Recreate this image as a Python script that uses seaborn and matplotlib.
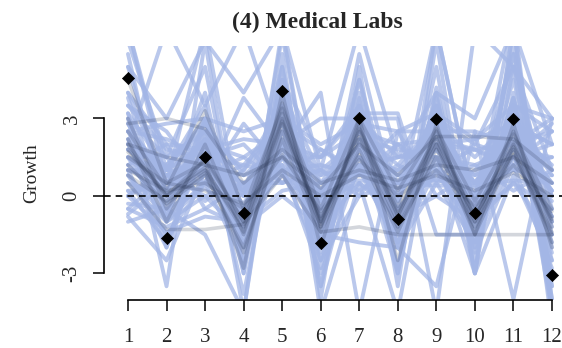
import numpy as np
import pandas as pd
import seaborn as sns
import matplotlib.pyplot as plt

months = list(range(1, 12 + 1))

# observed growth (black diamonds)
observed = [4.57, -1.63, 1.51, -0.66, 4.07, -1.82, 3.02, -0.89, 2.98, -0.66, 2.98, -3.06]

# light blue trajectories
light_lines = [
    [6.5, 0.5, 6.5, -1.5, 3.0, -2.5, 2.0, -3.0, 6.5, -0.5, 7.0, -4.5],
    [5.0, 3.0, 6.0, 4.0, 6.5, 1.0, 6.5, 1.5, 4.0, 3.0, 6.5, -3.5],
    [-1.0, -0.5, -1.5, -4.5, 5.0, -4.5, 0.5, -4.5, 3.5, -2.0, 6.0, -5.0],
    [3.0, -3.5, 6.0, -3.0, 6.5, -2.0, 4.5, -2.0, 5.0, -3.0, 6.5, 2.0],
    [0.0, -1.4, -0.8, -1.0, 0.2, 0.5, 0.6, 0.5, 0.4, 0.4, 0.6, 0.5],
    [2.0, 6.5, 3.5, 6.5, 2.0, 3.0, 3.0, 3.0, -4.5, 6.5, 5.0, -0.5],
    [-0.7, 0.5, 0.5, 3.8, 1.8, 4.0, -4.5, 2.5, 2.5, 2.5, -4.0, 3.0],
    [1.5, 1.0, 3.5, -4.5, 5.5, -4.0, 5.0, -3.5, 6.0, -3.0, 6.5, -4.0],
    [4.0, 2.0, -0.5, 0.5, 1.0, -2.5, 0.0, 2.0, 1.0, 0.0, 5.0, 3.0],
    [5.5, -1.0, 0.5, -0.5, 1.0, -1.5, -1.8, -2.0, -3.5, 2.5, 2.0, 3.0],
    [2.5, 1.0, 2.0, 1.5, 2.5, 0.0, 3.0, 1.5, 2.0, -1.0, 3.5, 2.5],
    [0.5, -1.0, 0.0, -1.5, 1.5, 1.5, 3.2, 3.2, -1.5, -1.5, 2.0, 1.0],
    [-0.8, -2.5, 1.0, -1.8, 2.0, -0.5, 1.0, -1.0, 1.5, -3.0, 0.8, -2.5],
    [1.0, 0.8, 1.5, 2.0, 0.5, 1.0, 0.0, 0.5, 1.2, 1.8, 1.0, 1.5],
    [2.2, -0.5, 2.5, -3.8, 3.5, -3.5, 2.0, -1.5, 3.8, -2.0, 2.8, -3.0],
    [3.5, 2.5, 0.5, 2.8, 1.0, 1.2, 0.8, 1.0, 2.8, 0.5, 2.5, 0.5],
    [1.2, -0.3, 2.8, 0.0, 3.0, -0.8, 4.5, -0.8, 1.0, -1.2, 3.8, -4.2],
    [0.2, -1.8, 1.8, -0.8, 1.2, -3.0, 1.2, -2.0, 0.5, -1.8, 1.5, -1.0],
    [6.0, 1.5, 5.0, -2.5, 6.2, -1.8, 5.5, -0.5, 6.5, -0.5, 5.5, -2.0],
    [-0.5, 0.8, 1.2, 0.2, 4.0, 0.8, 2.2, 0.8, 2.0, 0.8, 1.5, 2.0],
    [2.8, 0.5, 1.0, -0.3, 2.2, -0.2, 1.5, 1.0, 1.8, -0.2, 2.3, -0.8],
    [3.8, -0.8, 3.0, -2.0, 4.5, -2.8, 3.8, -2.8, 4.2, -2.5, 4.0, -4.5],
    [1.8, 1.5, -0.2, 1.0, 2.8, -1.0, 1.8, 0.2, 2.5, 0.5, 3.0, 0.8],
    [0.8, -0.8, 0.5, 1.2, 0.8, -0.5, 3.0, -1.2, 2.0, 1.8, 1.2, 2.5],
    [2.5, 2.2, 1.5, -1.0, 5.0, -2.0, 2.8, -0.2, 3.5, -0.6, 4.5, -1.5],
    [3.2, -2.0, 2.2, -1.2, 3.0, 0.2, 2.5, -2.8, 3.0, -1.8, 3.5, 0.0],
    [1.5, 0.0, 4.0, -2.8, 4.5, 1.5, 3.5, 0.5, 3.0, 2.0, 5.0, 1.0],
    [0.0, 1.2, 2.5, 0.3, 1.5, -0.2, 1.0, 2.5, 0.0, 1.0, 2.8, 2.0],
    [1.0, 0.5, 2.0, -0.5, 2.5, 0.0, 2.0, 0.3, 1.8, 0.0, 2.2, 0.5],
    [2.0, 1.0, 1.0, 0.2, 1.8, 0.8, 1.2, 1.5, 1.5, 1.2, 1.8, 1.5],
    [0.5, 0.0, 0.8, -0.8, 1.5, -1.0, 2.0, -0.5, 1.2, -0.5, 1.5, -0.8],
    [3.0, 1.5, 2.5, 1.0, 3.5, 0.5, 2.5, 1.2, 2.8, 1.5, 3.0, 1.0],
    [1.5, -1.0, 1.5, -2.0, 2.0, -1.5, 1.5, -1.8, 1.0, -1.5, 2.0, -2.2],
    [2.2, 0.8, 0.5, 0.0, 2.5, 0.5, 1.5, 0.0, 2.0, 0.3, 1.8, 0.2],
    [0.2, 0.3, 1.2, 0.5, 1.0, 0.2, 1.8, 0.8, 0.6, 0.5, 1.0, 0.8],
    [4.0, 0.5, 2.2, -1.0, 3.8, -1.5, 3.5, -1.0, 3.2, -1.0, 3.5, -2.5],
    [1.2, 2.0, 1.8, 2.2, 2.0, 1.5, 2.5, 2.0, 2.2, 1.8, 2.0, 2.5],
    [-0.3, -0.5, 0.3, -0.8, 0.8, -0.2, 0.5, -0.5, 0.8, -0.8, 0.5, -0.5],
    [2.8, 0.2, 1.8, -1.5, 3.2, -0.8, 2.8, -1.5, 2.5, -1.2, 2.8, -1.8],
    [1.8, 1.2, 2.8, 0.8, 2.0, 1.0, 2.2, 1.8, 1.5, 0.8, 2.5, 1.2],
    [0.8, -1.5, 0.5, -2.5, 1.8, -2.0, 1.0, -1.8, 1.5, -2.2, 1.2, -2.8],
    [3.5, 1.8, 1.5, 1.2, 2.8, 1.8, 1.0, 1.5, 2.0, 2.2, 2.8, 2.0],
    [1.5, 0.2, 2.2, 0.3, 2.8, -0.3, 2.8, 0.0, 2.2, 0.0, 2.5, 0.2],
    [2.5, -0.2, 1.2, 0.8, 1.2, -0.2, 1.2, 0.5, 1.5, -0.2, 1.2, -0.2],
    [0.0, 0.8, 0.0, 0.5, 0.5, 1.0, 0.2, 1.2, 0.5, 1.2, 0.2, 1.0],
    [3.2, 1.0, 3.0, -0.5, 2.0, 0.0, 3.5, -0.2, 3.5, -0.3, 3.2, 0.0],
    [2.0, -0.8, 2.5, -1.2, 4.2, -1.0, 2.0, -1.2, 2.8, -1.0, 3.8, -1.2],
    [1.0, 1.0, 0.8, 1.5, 0.5, 1.8, 0.8, 2.0, 0.6, 2.0, 1.5, 2.8],
    [5.0, 0.0, 1.0, -1.8, 3.5, -2.2, 3.0, -1.0, 3.0, -1.5, 3.0, -3.5],
    [2.5, 2.8, 3.0, 2.5, 3.0, 2.0, 2.8, 2.5, 3.2, 2.2, 3.5, 3.0],
    [-0.5, -1.2, -0.5, -1.2, 0.0, -1.2, 0.5, -0.8, 0.0, -1.0, 0.5, -1.5],
    [1.8, 0.5, 1.5, 0.0, 2.2, 0.2, 2.0, 0.5, 2.0, 0.5, 2.2, 0.2],
    [6.5, 1.0, 2.0, -1.0, 2.5, -0.5, 2.0, -0.8, 2.5, 0.0, 5.5, -1.0],
    [1.0, -2.0, 3.0, -3.0, 4.0, -3.5, 4.0, -3.0, 4.0, -3.0, 5.0, -4.0],
]

# darker, translucent trajectories (overlap makes the dark band)
dark_lines = [
    [1.8, 0.0, 1.0, -1.2, 3.0, -1.0, 2.5, -0.6, 2.2, -0.8, 2.0, -1.0],
    [2.5, 0.3, 3.3, -0.5, 3.4, -0.5, 3.0, 0.2, 2.6, -0.2, 2.4, -0.5],
    [1.2, -0.3, 0.8, -2.0, 2.2, -1.4, 1.8, -1.2, 1.5, -1.2, 1.6, -1.5],
    [2.8, 3.0, 2.6, 0.5, 1.8, 0.5, 1.0, 0.6, 1.2, 1.0, 1.5, 0.5],
    [2.0, 1.5, 1.2, 0.8, 1.5, 0.3, 2.0, 0.8, 2.3, 2.3, 2.2, 1.0],
    [0.5, -1.3, -1.3, -1.1, 0.8, -1.4, -1.2, -1.5, -1.5, -1.5, -1.5, -1.5],
    [4.5, 0.5, 1.3, -2.8, 4.0, -2.0, 3.0, -2.5, 2.8, -1.5, 2.8, -2.0],
    [1.0, 0.2, 0.5, -0.5, 1.6, -0.6, 1.4, 0.0, 1.0, -0.4, 1.2, -0.6],
    [2.2, -1.0, 2.0, -1.5, 2.8, -1.2, 2.2, -1.0, 2.0, -1.5, 1.8, -1.8],
    [1.5, 0.5, 0.2, -0.3, 1.0, 0.0, 0.8, 0.3, 0.8, 0.2, 0.9, 0.0],
    [3.0, -0.5, 1.5, -1.0, 3.6, -1.1, 2.7, -0.8, 2.5, -1.0, 2.5, -1.2],
    [1.7, 0.1, 1.1, -1.4, 2.9, -0.9, 2.3, -0.7, 2.0, -0.8, 1.9, -0.9],
    [2.0, 0.0, 1.4, -1.0, 3.2, -1.2, 2.6, -0.4, 2.3, -0.6, 2.1, -0.8],
    [0.8, -0.2, 0.9, -2.2, 2.5, -0.8, 1.6, -1.4, 1.8, -1.0, 1.7, -1.4],
]


def to_long(lines):
    rows = []
    for i, vals in enumerate(lines):
        for m, v in zip(months, vals):
            rows.append({'id': i, 'month': m, 'growth': v})
    return pd.DataFrame(rows)


sns.set_style('ticks')
plt.rcParams['font.family'] = ['Liberation Serif', 'DejaVu Serif']

fig = plt.figure(figsize=(5.62, 3.48), dpi=100)
ax = fig.add_axes([0.185, 0.138, 0.815, 0.73])

sns.lineplot(data=to_long(light_lines), x='month', y='growth', units='id',
             estimator=None, color='#a3b6e6', alpha=0.75, lw=2.8, ax=ax)
sns.lineplot(data=to_long(dark_lines), x='month', y='growth', units='id',
             estimator=None, color='#263350', alpha=0.2, lw=2.6, ax=ax)
ax.axhline(0, color='black', ls=(0, (4, 3)), lw=1.2)
sns.scatterplot(x=months, y=observed, marker='D', color='black', s=38,
                edgecolor='black', zorder=5, ax=ax)

ax.set_xlim(0.377, 12.26)
ax.set_ylim(-4.03, 5.81)
ax.set_xticks(months)
ax.set_yticks([-3, 0, 3])
ax.set_yticklabels(['-3', '0', '3'], rotation=90, va='center')
ax.tick_params(axis='both', length=8, width=1.1, color='black',
               labelsize=15, direction='out', bottom=True, left=True)
ax.tick_params(axis='x', pad=12)
ax.tick_params(axis='y', pad=8)

for s in ['top', 'right']:
    ax.spines[s].set_visible(False)
ax.spines['left'].set_bounds(-3, 3)
ax.spines['bottom'].set_bounds(1, 12)
for s in ['left', 'bottom']:
    ax.spines[s].set_color('black')
    ax.spines[s].set_linewidth(1.2)

ax.set_xlabel('')
ax.set_ylabel('Growth', fontsize=14, labelpad=16)
fig.text(0.565, 0.935, '(4) Medical Labs', ha='center', va='center',
         fontsize=17, fontweight='bold')

fig.savefig('out.png', dpi=100)
